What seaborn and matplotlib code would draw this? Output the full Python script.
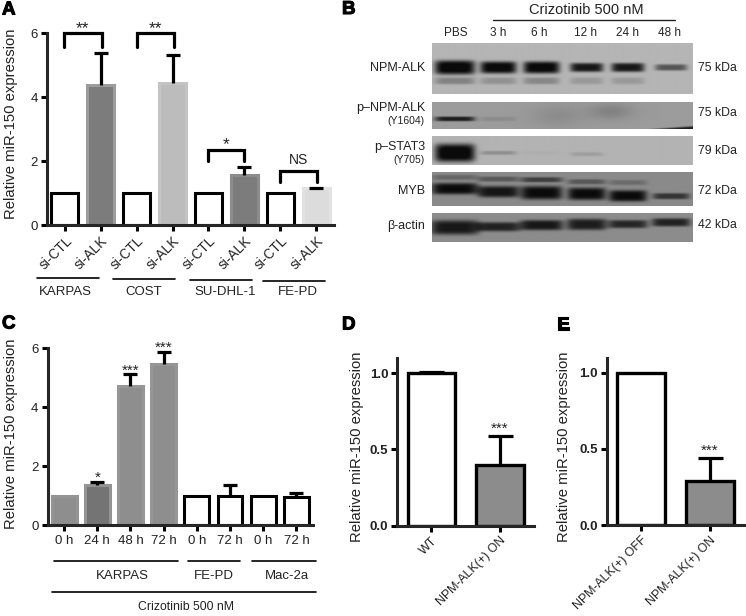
import numpy as np
import pandas as pd
import seaborn as sns
import matplotlib
matplotlib.use("Agg")
import matplotlib.pyplot as plt
import matplotlib.patheffects as pe

sns.set_style("ticks")
plt.rcParams['font.family'] = ['Liberation Sans', 'DejaVu Sans']
plt.rcParams['text.color'] = '#222222'

W, H = 746, 616

# Panel A
a_labels = ['si-CTL', 'si-ALK'] * 4
a_values = [1, 4.39, 1, 4.44, 1, 1.57, 1, 1.15]
a_err_top = [None, 5.38, None, 5.33, None, 1.83, None, 1.15]
a_fill = ['white', '#7c7c7c', 'white', '#bcbcbc', 'white', '#7c7c7c', 'white', '#dcdcdc']
a_edge = ['black', '#9c9c9c', 'black', '#c4c4c4', 'black', '#8c8c8c', 'black', '#e2e2e2']
a_groups = ['KARPAS', 'COST', 'SU-DHL-1', 'FE-PD']

# Panel C
c_labels = ['0 h', '24 h', '48 h', '72 h', '0 h', '72 h', '0 h', '72 h']
c_values = [1, 1.36, 4.72, 5.47, 1, 0.98, 1, 0.94]
c_err_top = [None, 1.47, 5.12, 5.89, None, 1.35, None, 1.08]
c_fill = ['#8e8e8e', '#747474', '#8e8e8e', '#8e8e8e', 'white', 'white', 'white', 'white']
c_edge = ['#949494', '#949494', '#969696', '#969696', 'black', 'black', 'black', 'black']
c_stars = ['', '*', '***', '***', '', '', '', '']

# Panels D, E
d_labels = ['WT', 'NPM-ALK(+) ON']
d_values = [1.0, 0.40]
d_err_top = [1.005, 0.59]
e_labels = ['NPM-ALK(+) OFF', 'NPM-ALK(+) ON']
e_values = [1.0, 0.29]
e_err_top = [None, 0.44]

# Panel B, darkness of each band per lane (0 nothing, 1 black) and band height in px
lanes = ['PBS', '3 h', '6 h', '12 h', '24 h', '48 h']
npm_main = [0.72, 0.70, 0.70, 0.62, 0.62, 0.38]
npm_main_h = [7, 6, 6, 4.5, 4.5, 3.2]
npm_low = [0.20, 0.14, 0.18, 0.11, 0.11, 0.0]
pnpm_main = [0.50, 0.06, 0.0, 0.0, 0.0, 0.0]
pstat_main = [0.72, 0.14, 0.02, 0.08, 0.0, 0.0]
pstat_main_h = [9, 2, 2, 2, 2, 2]
myb_main = [0.50, 0.46, 0.50, 0.50, 0.50, 0.34]
myb_main_h = [5.5, 5.5, 6.5, 6, 5.5, 3]
myb_main_y = [17, 20, 21, 22, 24, 24.3]
myb_up = [0.14, 0.20, 0.30, 0.20, 0.12, 0.0]
myb_up_y = [6, 7.7, 8.3, 10.3, 11, 11]
actin_main = [0.46, 0.42, 0.46, 0.44, 0.40, 0.42]
actin_main_h = [7, 4.5, 5, 5.5, 4, 4]
actin_main_y = [14, 13.3, 11.7, 11, 10.7, 9]
blot_bg = [0.71, 0.61, 0.70, 0.54, 0.55]
blot_mw = ['75 kDa', '75 kDa', '79 kDa', '72 kDa', '42 kDa']

fig = plt.figure(figsize=(W / 100, H / 100), dpi=100)

# overlay in pixels for the group lines and free labels
over = fig.add_axes([0, 0, 1, 1], zorder=5)
over.set_xlim(0, W)
over.set_ylim(H, 0)
over.axis('off')


def px_axes(l, t, r, b):
    return fig.add_axes([l / W, 1 - b / H, (r - l) / W, (b - t) / H])


def bars(box, labels, values, tops, fill, edge, ylim, yticks, fmt, width, lw, cap, lab_x, lab_y, tick_fs, bold=False):
    ax = px_axes(*box)
    df = pd.DataFrame({'pos': np.arange(len(values)), 'val': values})
    sns.barplot(data=df, x='pos', y='val', hue='pos', palette=fill, legend=False,
                dodge=False, width=width, linewidth=lw, ax=ax)
    for p, c in zip(ax.patches, edge):
        p.set_edgecolor(c)
    # only the bars that have an error bar
    tops = np.array(tops, dtype=float)
    keep = ~np.isnan(tops)
    up = tops[keep] - np.array(values)[keep]
    _, caps, _ = ax.errorbar(df['pos'][keep], np.array(values)[keep], yerr=[np.zeros(len(up)), up], fmt='none',
                             ecolor='black', elinewidth=2.3, capsize=cap, capthick=2.3, zorder=4)
    caps[0].set_visible(False)
    ax.set_xlim(-0.5, len(values) - 0.5)
    ax.set_ylim(*ylim)
    ax.set_yticks(yticks)
    ax.set_yticklabels([fmt % v for v in yticks], fontsize=tick_fs, fontweight='bold' if bold else 'normal')
    ax.set_xticks(df['pos'])
    ax.set_xticklabels(labels)
    ax.set_xlabel('')
    ax.set_ylabel('Relative miR-150 expression', fontsize=10.7, color='#222222', va='center')
    l, t, r, b = box
    ax.yaxis.set_label_coords((lab_x - l) / (r - l), (b - lab_y) / (b - t))
    sns.despine(ax=ax)
    ax.spines['left'].set_linewidth(2.2)
    ax.spines['bottom'].set_linewidth(2.2)
    ax.tick_params(axis='both', width=2.2, length=4.5, pad=2, color='black', labelcolor='#222222')
    return ax


# A
ax_a = bars((47, 33.3, 334, 225), a_labels, a_values, a_err_top, a_fill, a_edge, (0, 6), [0, 2, 4, 6], '%d',
            0.75, 2.2, 4.7, 11, 124, 9.5)
ax_a.tick_params(axis='x', labelsize=9.8)
plt.setp(ax_a.get_xticklabels(), rotation=45, ha='right', rotation_mode='anchor')


def bracket(ax, x0, x1, top, bot, label, ly, fs):
    ax.plot([x0, x0, x1, x1], [bot, top, top, bot], color='black', lw=2.3, clip_on=False,
            solid_capstyle='round', solid_joinstyle='miter')
    ax.text((x0 + x1) / 2, ly, label, ha='center', va='center', fontsize=fs, clip_on=False)


bracket(ax_a, -0.03, 1.03, 6.0, 5.58, '**', 6.15, 12.5)
bracket(ax_a, 2.0, 3.03, 6.0, 5.58, '**', 6.15, 12.5)
bracket(ax_a, 4.0, 5.0, 2.35, 2.0, '*', 2.52, 12.5)
bracket(ax_a, 6.0, 7.03, 1.70, 1.36, 'NS', 2.02, 10)

a_line_x = [(37, 99, 278), (113, 175, 279), (190, 252, 280), (263, 325, 281)]
a_text_x = [65, 144, 225, 298]
for (x0, x1, y), tx, g in zip(a_line_x, a_text_x, a_groups):
    over.plot([x0, x1], [y, y], color='black', lw=1.2)
    over.text(tx, 292, g, ha='center', va='center', fontsize=9.5)

# C
ax_c = bars((47.5, 348.3, 313, 525), c_labels, c_values, c_err_top, c_fill, c_edge, (0, 6), [0, 2, 4, 6], '%d',
            0.75, 2.2, 5, 11, 434, 9.5)
ax_c.tick_params(axis='x', labelsize=9.5, pad=3)
for i, s in enumerate(c_stars):
    if s:
        ax_c.text(i, c_err_top[i] + 0.12, s, ha='center', va='center', fontsize=11, clip_on=False)

for x0, x1, y, tx, g in [(54, 178, 561, 122, 'KARPAS'), (188, 240, 561, 214, 'FE-PD'), (252, 316, 561, 287, 'Mac-2a')]:
    over.plot([x0, x1], [y, y], color='black', lw=1.2)
    over.text(tx, 576, g, ha='center', va='center', fontsize=9.5)
over.plot([52, 316], [592, 592], color='black', lw=1.2)
over.text(186, 607, 'Crizotinib 500 nM', ha='center', va='center', fontsize=8.8)

# D
ax_d = bars((397.3, 358, 534, 525.7), d_labels, d_values, d_err_top, ['white', '#8c8c8c'], ['black', 'black'],
            (0, 1.1), [0.0, 0.5, 1.0], '%.1f', 0.7, 2.4, 9, 357, 447, 9.5, bold=True)
ax_d.tick_params(axis='x', labelsize=8.9)
plt.setp(ax_d.get_xticklabels(), rotation=45, ha='right', rotation_mode='anchor')
ax_d.text(1, 0.635, '***', ha='center', va='center', fontsize=11, clip_on=False)

# E
ax_e = bars((606.7, 357.7, 744, 525), e_labels, e_values, e_err_top, ['white', '#8c8c8c'], ['black', 'black'],
            (0, 1.1), [0.0, 0.5, 1.0], '%.1f', 0.7, 2.4, 9, 564, 447, 9.5, bold=True)
ax_e.tick_params(axis='x', labelsize=8.9)
plt.setp(ax_e.get_xticklabels(), rotation=45, ha='right', rotation_mode='anchor')
ax_e.text(1, 0.49, '***', ha='center', va='center', fontsize=11, clip_on=False)

# B, blots
lane_x = [22.7, 66, 109, 154, 195, 238]
lane_hw = [20, 18, 18, 16.5, 16.5, 16]
lane_label_x = [455.7, 498, 539, 586, 628, 669]


def blot(box, bg, rows, extra=None, spread=1.0, soft=4):
    l, t, r, b = box
    h, w = int((b - t) * 3), int((r - l) * 3)
    yy, xx = np.mgrid[0:h, 0:w] / 3.0
    img = np.full((h, w), float(bg))
    for ys, dark, thick in rows:
        for cx, hw, d, th, yc in zip(lane_x, lane_hw, dark, thick, ys):
            img -= d * np.exp(-((xx - cx) / (hw * spread)) ** 6) * np.exp(-np.abs((yy - yc) / th) ** soft)
    if extra is not None:
        img = extra(img, xx, yy)
    ax = px_axes(*box)
    ax.imshow(np.clip(img, 0.04, 1), cmap='gray', vmin=0, vmax=1, aspect='auto', interpolation='bilinear')
    ax.axis('off')


def pnpm_extra(img, xx, yy):
    # darker smear in the middle and wedge at the lower right
    img -= 0.10 * np.exp(-((xx - 178) / 22) ** 2 - ((yy - 10) / 8) ** 2)
    img -= 0.06 * np.exp(-((xx - 125) / 25) ** 2 - ((yy - 14) / 10) ** 2)
    wedge = np.clip((yy - (27.5 - (xx - 205) * 0.07)) / 2.0, 0, 1) * (xx > 205)
    img -= 0.5 * wedge
    return img


blot((431.7, 43.3, 691.7, 94.3), blot_bg[0],
     [([24.3] * 6, npm_main, npm_main_h), ([37.7] * 6, npm_low, [3.5] * 6)])
blot((431.7, 101.7, 691.7, 129.3), blot_bg[1],
     [([17.3] * 6, pnpm_main, [2.3] * 6)], pnpm_extra)
blot((431.7, 136, 691.7, 165), blot_bg[2],
     [([16.7, 16.7, 16.7, 18, 18, 18], pstat_main, pstat_main_h)])
blot((431.7, 171.7, 691.7, 206), blot_bg[3],
     [(myb_up_y, myb_up, [2.5] * 6), (myb_main_y, myb_main, myb_main_h)], spread=1.15)
blot((431.7, 213.3, 691.7, 241.7), blot_bg[4],
     [(actin_main_y, actin_main, actin_main_h)], spread=1.2)

over.text(586.7, 10, 'Crizotinib 500 nM', ha='center', va='center', fontsize=10.5)
over.plot([493, 675], [20, 20], color='#222222', lw=1)
for x, s in zip(lane_label_x, lanes):
    over.text(x, 33.5, s, ha='center', va='center', fontsize=8.5)

left_big = [('NPM-ALK', 68), ('p\u2013NPM-ALK', 107.7), ('p\u2013STAT3', 146.7), ('MYB', 191), ('\u03b2-actin', 226)]
left_small = [('(Y1604)', 121), ('(Y705)', 160)]
for s, y in left_big:
    over.text(425, y, s, ha='right', va='center', fontsize=9)
for s, y in left_small:
    over.text(425, y, s, ha='right', va='center', fontsize=7.5)
for s, y in zip(blot_mw, [68, 113, 151, 191, 225]):
    over.text(698, y, s, ha='left', va='center', fontsize=8.8)

# panel letters
for s, x, y in [('A', 2, 10), ('B', 342, 9.5), ('C', 2, 324), ('D', 342, 325), ('E', 557, 325)]:
    t = over.text(x, y, s, ha='left', va='center', fontsize=13.5, fontweight='bold', color='black')
    t.set_path_effects([pe.withStroke(linewidth=0.8, foreground='black')])

fig.savefig('out.png', dpi=100)
